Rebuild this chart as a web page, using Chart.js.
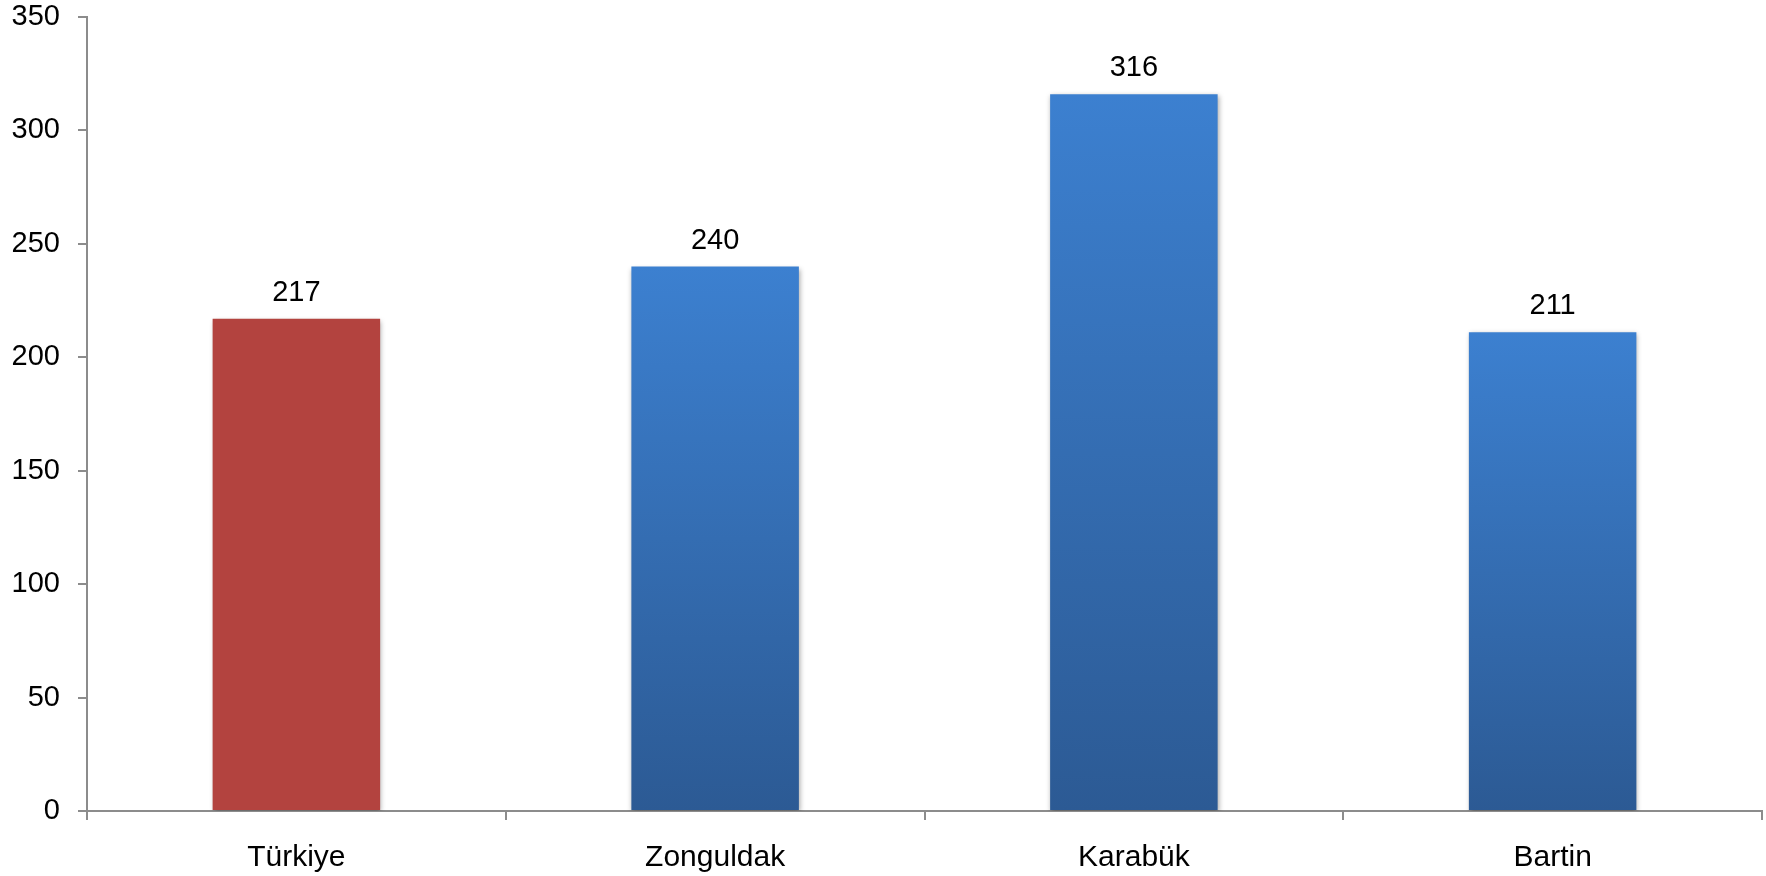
<!DOCTYPE html>
<html>
<head>
<meta charset="utf-8">
<script src="https://cdn.jsdelivr.net/npm/chart.js@4/dist/chart.umd.min.js"></script>
<style>
  html, body { margin: 0; padding: 0; background: #fff; }
  #wrap { width: 1766px; height: 876px; }
</style>
</head>
<body>
<div id="wrap"><canvas id="chart" width="1766" height="876"></canvas></div>
<script>
// Chart data
const regions = ['Türkiye', 'Zonguldak', 'Karabük', 'Bartin'];
const values = [217, 240, 316, 211];
const yTicks = [0, 50, 100, 150, 200, 250, 300, 350];

const FONT = "'Liberation Sans', Arial, sans-serif";
const axisGray = '#8c8c8c';

// Each bar gets its own top-to-bottom gradient (light blue at top, darker at base)
function barColor(context) {
    if (context.dataIndex === 0) return '#b3433f';
    const chart = context.chart;
    if (!chart.chartArea) return '#3a78c4';
    const y = chart.scales.y;
    const top = y.getPixelForValue(context.raw);
    const bottom = y.getPixelForValue(0);
    const g = chart.ctx.createLinearGradient(0, top, 0, bottom);
    g.addColorStop(0, '#3c80d0');
    g.addColorStop(1, '#2c5a94');
    return g;
}

// Soft shadow under bars + value labels above them
const barExtras = {
    id: 'barExtras',
    beforeDatasetsDraw(chart) {
        const ctx = chart.ctx;
        ctx.save();
        ctx.shadowColor = 'rgba(0, 0, 0, 0.35)';
        ctx.shadowBlur = 5;
        ctx.shadowOffsetX = 1;
        ctx.shadowOffsetY = 2;
    },
    afterDatasetsDraw(chart) {
        const ctx = chart.ctx;
        ctx.restore();
        const meta = chart.getDatasetMeta(0);
        ctx.save();
        ctx.fillStyle = '#000';
        ctx.font = '29px ' + FONT;
        ctx.textAlign = 'center';
        ctx.textBaseline = 'alphabetic';
        meta.data.forEach((bar, i) => {
            ctx.fillText(String(values[i]), bar.x, bar.y - 18);
        });
        ctx.restore();
    }
};

new Chart(document.getElementById('chart').getContext('2d'), {
    type: 'bar',
    data: {
        labels: regions,
        datasets: [{
            data: values,
            backgroundColor: barColor,
            borderWidth: 0,
            barPercentage: 0.4,
            categoryPercentage: 1.0
        }]
    },
    options: {
        responsive: false,
        animation: false,
        events: [],
        layout: { padding: { top: 17, right: 4, left: 0, bottom: 0 } },
        plugins: {
            legend: { display: false },
            tooltip: { enabled: false }
        },
        scales: {
            y: {
                min: 0,
                max: 350,
                afterBuildTicks: (scale) => { scale.ticks = yTicks.map(v => ({ value: v })); },
                afterFit: (scale) => {
                    scale.width = 87;
                    scale.paddingTop = 0;
                    scale.paddingBottom = 0;
                },
                border: { display: true, color: axisGray, width: 2 },
                grid: {
                    display: true,
                    drawOnChartArea: false,
                    drawTicks: true,
                    tickLength: 9,
                    color: axisGray,
                    lineWidth: 2
                },
                ticks: {
                    color: '#000',
                    padding: 18,
                    font: { family: FONT, size: 29 }
                }
            },
            x: {
                offset: true,
                afterFit: (scale) => {
                    scale.height = 65;
                    scale.paddingLeft = 0;
                    scale.paddingRight = 0;
                },
                border: { display: true, color: axisGray, width: 2 },
                grid: {
                    display: true,
                    offset: true,
                    drawOnChartArea: false,
                    drawTicks: true,
                    tickLength: 9,
                    color: axisGray,
                    lineWidth: 2
                },
                ticks: {
                    color: '#000',
                    padding: 20,
                    maxRotation: 0,
                    font: { family: FONT, size: 30 }
                }
            }
        }
    },
    plugins: [barExtras]
});
</script>
</body>
</html>
